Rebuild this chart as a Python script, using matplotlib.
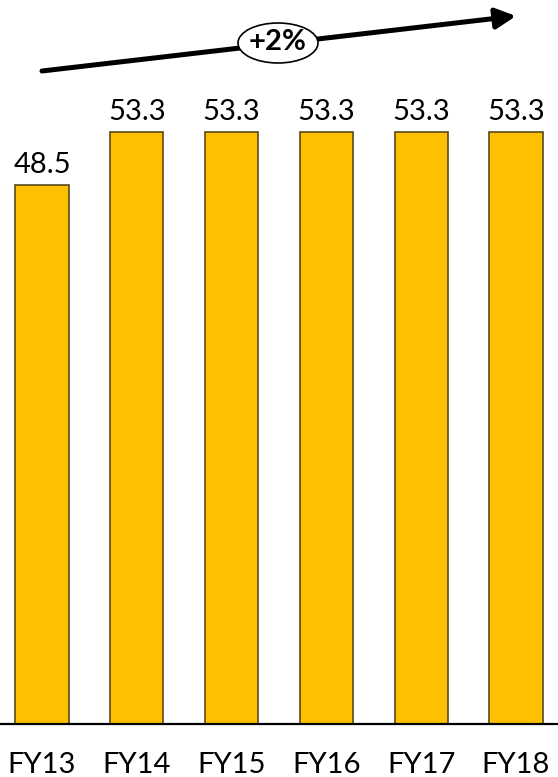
import matplotlib
matplotlib.use("Agg")
import matplotlib.pyplot as plt
from matplotlib.patches import Ellipse

# data
years = ['FY13', 'FY14', 'FY15', 'FY16', 'FY17', 'FY18']
values = [48.5, 53.3, 53.3, 53.3, 53.3, 53.3]
growth_label = '+2%'

plt.rcParams['font.family'] = ['Lato', 'DejaVu Sans']

fig = plt.figure(figsize=(5.58, 7.77), dpi=100)
ax = fig.add_axes([0, 53 / 777, 1, 724 / 777])

x = list(range(len(years)))
bars = ax.bar(x, values, width=0.56, color='#FFC000', edgecolor='#5a4a1a', linewidth=1.2, zorder=2)

# value labels above bars
for xi, v in zip(x, values):
    ax.annotate(f'{v:.1f}', (xi, v), xytext=(0, 8.6), textcoords='offset points',
                ha='center', va='baseline', fontsize=21, color='black')

ax.set_xlim(-0.443, len(years) - 1 + 0.443)
ax.set_ylim(0, 65.18)
ax.set_xticks(x)
ax.set_xticklabels(years, fontsize=21)
plt.setp(ax.get_xticklabels(), va='baseline')
ax.tick_params(axis='x', length=0, pad=35.3)
ax.set_yticks([])
for s in ['top', 'right', 'left']:
    ax.spines[s].set_visible(False)
ax.spines['bottom'].set_linewidth(1.6)
ax.spines['bottom'].set_color('black')
ax.patch.set_alpha(0)

# growth arrow with badge
ax.annotate('', xy=(516 / 558, 1 - 16 / 777), xytext=(42 / 558, 1 - 71 / 777),
            xycoords='figure fraction', textcoords='figure fraction',
            arrowprops=dict(arrowstyle='-|>,head_length=0.55,head_width=0.28',
                            mutation_scale=22, lw=3.6, color='black',
                            shrinkA=0, shrinkB=0),
            annotation_clip=False)
badge = Ellipse((278 / 558, 1 - 43 / 777), 80 / 558, 40 / 777, transform=fig.transFigure,
                facecolor='white', edgecolor='black', linewidth=1.2, zorder=5)
fig.add_artist(badge)
fig.text(278 / 558, 1 - 42 / 777, growth_label, ha='center', va='center',
         fontsize=21, fontweight='bold', zorder=6)

fig.savefig('out.png', dpi=100)
